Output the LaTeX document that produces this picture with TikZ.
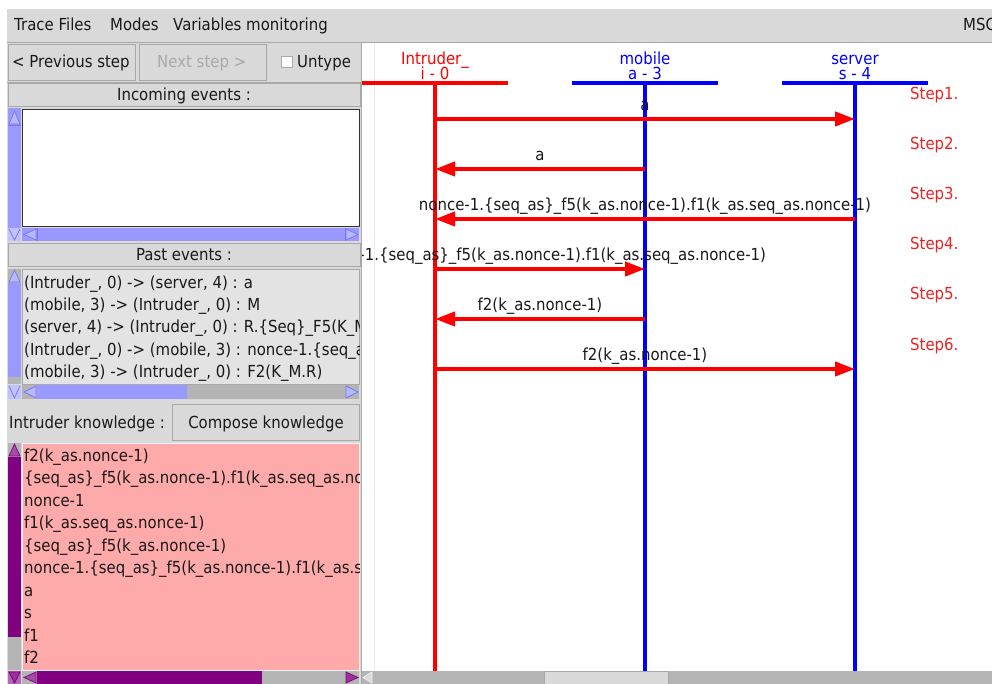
\documentclass[tikz,border=0pt]{standalone}
\usepackage{fontspec}
\setmainfont[FakeStretch=0.9]{DejaVu Sans}
\usetikzlibrary{arrows.meta}

\definecolor{guigray}{HTML}{D9D9D9}
\definecolor{guiedge}{HTML}{A8A8A8}
\definecolor{guilight}{HTML}{F2F2F2}
\definecolor{track}{HTML}{B4B4B4}
\definecolor{sblue}{HTML}{9999FF}
\definecolor{sbluedark}{HTML}{7777EE}
\definecolor{spurple}{HTML}{800080}
\definecolor{pinkbg}{HTML}{FFAAAA}
\definecolor{pastbg}{HTML}{E3E3E3}
\definecolor{disabled}{HTML}{A9A9A9}
\definecolor{lifered}{HTML}{FF0000}
\definecolor{lifeblue}{HTML}{0000FF}
\definecolor{steptxt}{HTML}{EE2222}

% two-line instance heads with a fixed line pitch
\newcommand\lifeheadfont{\fontsize{16.6}{15}\selectfont\lineskiplimit=-20pt\relax}

\begin{document}
\begin{tikzpicture}[x=1pt,y=-1pt,
  font=\fontsize{16.6}{18}\selectfont,
  txt/.style={anchor=base west,inner sep=0pt,text=black!90},
  ctxt/.style={anchor=base,inner sep=0pt,text=black!90},
  panel/.style={fill=guigray,draw=guiedge,line width=0.8pt},
  button/.style={fill=guigray,draw=guiedge,line width=1pt},
  arrowbox/.style={line width=0.7pt},
  redlife/.style={draw=lifered,line width=4pt},
  bluelife/.style={draw=lifeblue,line width=4pt},
  msg/.style={draw=lifered,line width=4pt,-{Triangle[length=20pt,width=14pt]}},
  lbl/.style={anchor=base,inner sep=0pt,yshift=8.5pt,text=black!90},
  steplbl/.style={anchor=base west,inner sep=0pt,text=steptxt},
  headname/.style={anchor=south,inner sep=0pt,align=center,font=\lifeheadfont}]

\useasboundingbox (0,0) rectangle (992,684);
\fill[white] (0,0) rectangle (992,684);

% ---------- menu bar ----------
\fill[guigray] (7,9) rectangle (992,42);
\draw[guiedge,line width=0.8pt] (7,42) -- (992,42);
\node[txt] (mtrace) at (14,31) {Trace Files};
\node[txt] (mmodes) at (110,31) {Modes};
\node[txt] (mvars) at (173,31) {Variables monitoring};
\begin{scope}
  \clip (900,9) rectangle (992,42);
  \node[txt] (mmsc) at (963,31) {MSC};
\end{scope}

% ---------- left panel background ----------
\fill[guigray] (7,43) rectangle (361,684);

% step buttons
\draw[button] (8.5,44.5) rectangle (135.5,80.5);
\node[txt] (bprev) at (12,68) {< Previous step};
\draw[button] (139.5,44.5) rectangle (266.5,80.5);
\node[txt,text=disabled] (bnext) at (157,68) {Next step >};
\draw[fill=white,draw=guiedge,line width=0.8pt] (281,56) rectangle (292,67);
\node[txt] (buntype) at (297,68) {Untype};
\draw[guiedge,line width=0.8pt] (7,82) -- (361,82);

% ---------- incoming events ----------
\draw[panel] (8,83) rectangle (360,106);
\node[ctxt] (hin) at (184,101) {Incoming events :};
\draw[fill=white,draw=black!80,line width=1pt] (22,110) rectangle (359,227);
% vertical scroll bar
\fill[sblue] (8,108) rectangle (21,228);
\draw[arrowbox,draw=sbluedark,fill=sblue!70] (9,124) -- (14.5,111) -- (20,124) -- cycle;
\draw[sbluedark,line width=0.7pt] (8,125) -- (21,125);
\fill[sblue!60] (8,228) rectangle (21,241);
\draw[arrowbox,draw=sbluedark] (9,229) -- (14.5,240) -- (20,229);
% horizontal scroll bar
\fill[sblue] (22,228) rectangle (359,241);
\draw[arrowbox,draw=sbluedark,fill=sblue!70] (36,229) -- (24,234.5) -- (36,240) -- cycle;
\draw[arrowbox,draw=sbluedark,fill=sblue!70] (346,229) -- (358,234.5) -- (346,240) -- cycle;
\draw[sbluedark,line width=0.7pt] (37,228) -- (37,241) (345,228) -- (345,241);

% ---------- past events ----------
\draw[panel] (8,243) rectangle (360,266);
\node[ctxt] (hpast) at (184,261) {Past events :};
\draw[fill=pastbg,draw=guiedge,line width=0.8pt] (22,269) rectangle (359,384);
\begin{scope}
  \clip (22,269) rectangle (359,384);
  \node[txt] (pe1) at (24,288) {(Intruder\_, 0) -> (server, 4) : a};
  \node[txt] (pe2) at (24,310) {(mobile, 3) -> (Intruder\_, 0) : M};
  \node[txt] (pe3) at (24,332) {(server, 4) -> (Intruder\_, 0) : R.\{Seq\}\_F5(K\_M};
  \node[txt] (pe4) at (24,355) {(Intruder\_, 0) -> (mobile, 3) : nonce-1.\{seq\_a};
  \node[txt] (pe5) at (24,377) {(mobile, 3) -> (Intruder\_, 0) : F2(K\_M.R)};
\end{scope}
% vertical scroll bar
\fill[track] (8,269) rectangle (21,384);
\fill[sblue] (8,283) rectangle (21,377);
\draw[arrowbox,draw=sbluedark,fill=sblue!70] (9,282) -- (14.5,270) -- (20,282) -- cycle;
\fill[sblue!60] (8,385) rectangle (21,399);
\draw[arrowbox,draw=sbluedark] (9,386) -- (14.5,398) -- (20,386);
% horizontal scroll bar
\fill[track] (22,385) rectangle (359,399);
\fill[sblue] (37,385) rectangle (187,399);
\draw[arrowbox,draw=sbluedark,fill=sblue!70] (36,386) -- (24,392) -- (36,398) -- cycle;
\draw[arrowbox,draw=sbluedark,fill=sblue!70] (346,386) -- (358,392) -- (346,398) -- cycle;

% ---------- intruder knowledge ----------
\node[txt] (hknow) at (9,428) {Intruder knowledge :};
\draw[button] (172.5,404.5) rectangle (359.5,440.5);
\node[ctxt] (bcompose) at (266,428) {Compose knowledge};
\draw[fill=pinkbg,draw=guilight,line width=1pt] (22,443) rectangle (359,670);
\begin{scope}
  \clip (22,443) rectangle (359,670);
  \node[txt] (k1) at (24,461) {f2(k\_as.nonce-1)};
  \node[txt] (k2) at (24,483) {\{seq\_as\}\_f5(k\_as.nonce-1).f1(k\_as.seq\_as.nonce-1)};
  \node[txt] (k3) at (24,506) {nonce-1};
  \node[txt] (k4) at (24,528) {f1(k\_as.seq\_as.nonce-1)};
  \node[txt] (k5) at (24,551) {\{seq\_as\}\_f5(k\_as.nonce-1)};
  \node[txt] (k6) at (24,573) {nonce-1.\{seq\_as\}\_f5(k\_as.nonce-1).f1(k\_as.seq\_as.nonce-1)};
  \node[txt] (k7) at (24,596) {a};
  \node[txt] (k8) at (24,618) {s};
  \node[txt] (k9) at (24,641) {f1};
  \node[txt] (k10) at (24,663) {f2};
\end{scope}
% vertical scroll bar
\fill[track] (8,443) rectangle (21,670);
\fill[spurple] (8,457) rectangle (21,637);
\draw[arrowbox,draw=spurple,fill=spurple!70] (9,456) -- (14.5,444) -- (20,456) -- cycle;
\fill[spurple!60] (8,671) rectangle (21,684);
\draw[arrowbox,draw=spurple,fill=spurple!80] (9,672) -- (14.5,683) -- (20,672) -- cycle;
% horizontal scroll bar
\fill[track] (22,671) rectangle (359,684);
\fill[spurple] (37,671) rectangle (262,684);
\draw[arrowbox,draw=spurple,fill=spurple!70] (36,672) -- (24,677.5) -- (36,683) -- cycle;
\draw[arrowbox,draw=spurple,fill=spurple!80] (346,672) -- (358,677.5) -- (346,683) -- cycle;

% ---------- message sequence chart ----------
\draw[guiedge,line width=1pt] (361.5,43) -- (361.5,684);
\fill[white] (362,43) rectangle (992,670);
\draw[black!8,line width=0.6pt] (374,43) -- (374,670);

\begin{scope}
  \clip (362,43) rectangle (992,670);

  % lifeline heads: instance name over its identifier
  \node[headname,text=lifered] (nI) at (435,80) {Intruder\_\\i - 0};
  \node[headname,text=lifeblue] (nM) at (645,80) {mobile\\a - 3};
  \node[headname,text=lifeblue] (nS) at (855,80) {server\\s - 4};

  \coordinate (Ihead) at (435,83);
  \coordinate (Mhead) at (645,83);
  \coordinate (Shead) at (855,83);
  \coordinate (Iend) at (435,672);
  \coordinate (Mend) at (645,672);
  \coordinate (Send) at (855,672);

  \draw[redlife] ([xshift=-73pt]Ihead) -- ([xshift=73pt]Ihead);
  \draw[bluelife] ([xshift=-73pt]Mhead) -- ([xshift=73pt]Mhead);
  \draw[bluelife] ([xshift=-73pt]Shead) -- ([xshift=73pt]Shead);
  \draw[redlife] (Ihead) -- (Iend);
  \draw[bluelife] (Mhead) -- (Mend);
  \draw[bluelife] (Shead) -- (Send);

  % message end points on the lifelines
  \coordinate (i1) at (435,119); \coordinate (s1) at (855,119);
  \coordinate (m2) at (645,169); \coordinate (i2) at (435,169);
  \coordinate (s3) at (855,219); \coordinate (i3) at (435,219);
  \coordinate (i4) at (435,269); \coordinate (m4) at (645,269);
  \coordinate (m5) at (645,319); \coordinate (i5) at (435,319);
  \coordinate (i6) at (435,369); \coordinate (s6) at (855,369);

  \draw[msg] (i1) -- (s1) node[midway,lbl] (l1) {a};
  \draw[msg] (m2) -- (i2) node[midway,lbl] (l2) {a};
  \draw[msg] (s3) -- (i3) node[midway,lbl] (l3) {nonce-1.\{seq\_as\}\_f5(k\_as.nonce-1).f1(k\_as.seq\_as.nonce-1)};
  \draw[msg] (i4) -- (m4) node[midway,lbl] (l4) {nonce-1.\{seq\_as\}\_f5(k\_as.nonce-1).f1(k\_as.seq\_as.nonce-1)};
  \draw[msg] (m5) -- (i5) node[midway,lbl] (l5) {f2(k\_as.nonce-1)};
  \draw[msg] (i6) -- (s6) node[midway,lbl] (l6) {f2(k\_as.nonce-1)};

  % step markers
  \node[steplbl] (st1) at (910,100) {Step1.};
  \node[steplbl] (st2) at (910,150) {Step2.};
  \node[steplbl] (st3) at (910,200) {Step3.};
  \node[steplbl] (st4) at (910,250) {Step4.};
  \node[steplbl] (st5) at (910,300) {Step5.};
  \node[steplbl] (st6) at (910,350) {Step6.};
\end{scope}

% bottom scroll bar of the chart
\fill[track] (362,671) rectangle (992,684);
\draw[fill=guigray,draw=guiedge,line width=0.7pt] (544,671.5) rectangle (668,684);
\draw[arrowbox,draw=guilight,fill=guigray] (372,672) -- (363,677.5) -- (372,683) -- cycle;
\end{tikzpicture}
\end{document}
